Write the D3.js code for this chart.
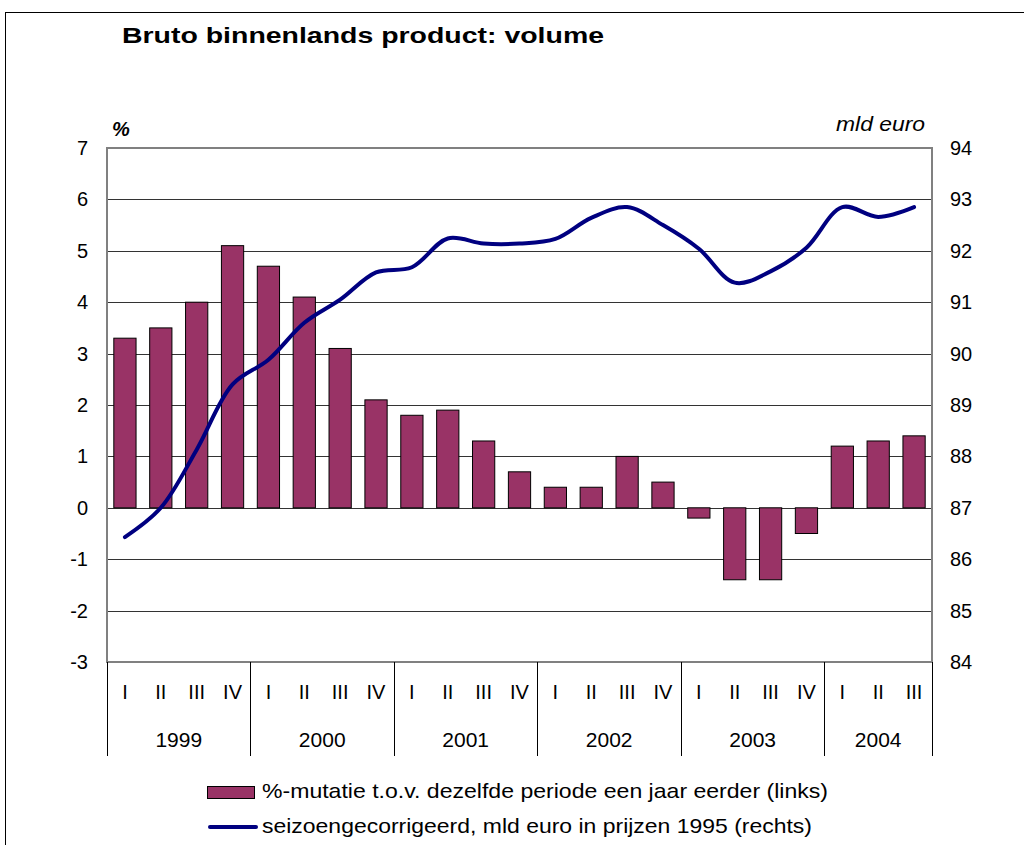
<!DOCTYPE html>
<html>
<head>
<meta charset="utf-8">
<script src="https://cdn.jsdelivr.net/npm/d3@7"></script>
<style>
  body { margin: 0; background: #fff; }
  text { font-family: "Liberation Sans", Arial, sans-serif; fill: #000; }
</style>
</head>
<body>
<svg id="chart" width="1024" height="845"></svg>
<script>
const years = ["1999", "2000", "2001", "2002", "2003", "2004"];
const periods = [
  "1999 I", "1999 II", "1999 III", "1999 IV",
  "2000 I", "2000 II", "2000 III", "2000 IV",
  "2001 I", "2001 II", "2001 III", "2001 IV",
  "2002 I", "2002 II", "2002 III", "2002 IV",
  "2003 I", "2003 II", "2003 III", "2003 IV",
  "2004 I", "2004 II", "2004 III"
];
const mutatie = [3.3, 3.5, 4.0, 5.1, 4.7, 4.1, 3.1, 2.1, 1.8, 1.9, 1.3, 0.7,
  0.4, 0.4, 1.0, 0.5, -0.2, -1.4, -1.4, -0.5, 1.2, 1.3, 1.4];
const volume = [86.43, 87.0, 88.13, 89.4, 89.88, 90.6, 91.05, 91.58, 91.68, 92.24, 92.14, 92.14,
  92.23, 92.64, 92.85, 92.5, 92.04, 91.38, 91.6, 92.06, 92.85, 92.66, 92.85];
const leftTicks = [-3, -2, -1, 0, 1, 2, 3, 4, 5, 6, 7];
const rightTicks = [84, 85, 86, 87, 88, 89, 90, 91, 92, 93, 94];
const legendLabels = [
  "%-mutatie t.o.v. dezelfde periode een jaar eerder (links)",
  "seizoengecorrigeerd, mld euro in prijzen 1995 (rechts)"
];

const svg = d3.select("#chart");
const plotLeft = 107, plotRight = 932, plotTop = 148, plotBottom = 662;

// outer frame
svg.append("rect")
  .attr("x", 5.5).attr("y", 12.5)
  .attr("width", 1030).attr("height", 850)
  .attr("fill", "none").attr("stroke", "#000").attr("stroke-width", 1);

svg.append("text")
  .attr("x", 122).attr("y", 43)
  .attr("font-size", 22).attr("font-weight", "bold")
  .attr("textLength", 482).attr("lengthAdjust", "spacingAndGlyphs")
  .text("Bruto binnenlands product: volume");

const xScale = d3.scaleBand().domain(periods).range([plotLeft, plotRight]).paddingInner(0.38).paddingOuter(0.19);
const yLeft = d3.scaleLinear().domain([-3, 7]).range([plotBottom, plotTop]);
const yRight = d3.scaleLinear().domain([84, 94]).range([plotBottom, plotTop]);
const step = xScale.step();

// gridlines
svg.append("g")
  .selectAll("line")
  .data(leftTicks.slice(1, -1))
  .join("line")
  .attr("x1", plotLeft).attr("x2", plotRight)
  .attr("y1", d => Math.round(yLeft(d)) + 0.5)
  .attr("y2", d => Math.round(yLeft(d)) + 0.5)
  .attr("stroke", "#333").attr("stroke-width", 1);

// bars
svg.append("g")
  .selectAll("rect")
  .data(mutatie)
  .join("rect")
  .attr("x", (d, i) => xScale(periods[i]))
  .attr("y", d => yLeft(Math.max(0, d)))
  .attr("width", xScale.bandwidth())
  .attr("height", d => Math.abs(yLeft(d) - yLeft(0)))
  .attr("fill", "#993366")
  .attr("stroke", "#000").attr("stroke-width", 1);

// line
const line = d3.line()
  .x((d, i) => xScale(periods[i]) + xScale.bandwidth() / 2)
  .y(d => yRight(d))
  .curve(d3.curveCatmullRom);

svg.append("path")
  .datum(volume)
  .attr("d", line)
  .attr("fill", "none")
  .attr("stroke", "#000080")
  .attr("stroke-width", 4)
  .attr("stroke-linecap", "round")
  .attr("stroke-linejoin", "round");

// plot frame
svg.append("rect")
  .attr("x", plotLeft).attr("y", plotTop)
  .attr("width", plotRight - plotLeft).attr("height", plotBottom - plotTop)
  .attr("fill", "none").attr("stroke", "#808080").attr("stroke-width", 2);

// left axis
svg.append("g")
  .selectAll("text")
  .data(leftTicks)
  .join("text")
  .attr("x", 88).attr("y", d => yLeft(d) + 7)
  .attr("text-anchor", "end").attr("font-size", 20)
  .text(d => d);

// right axis
svg.append("g")
  .selectAll("text")
  .data(rightTicks)
  .join("text")
  .attr("x", 950).attr("y", d => yRight(d) + 7)
  .attr("font-size", 20)
  .text(d => d);

svg.append("text")
  .attr("x", 112).attr("y", 136)
  .attr("font-size", 20).attr("font-weight", "bold").attr("font-style", "italic")
  .text("%");
svg.append("text")
  .attr("x", 836).attr("y", 131)
  .attr("font-size", 21).attr("font-style", "italic")
  .attr("textLength", 89).attr("lengthAdjust", "spacingAndGlyphs")
  .text("mld euro");

// category axis: quarters
svg.append("g")
  .selectAll("text")
  .data(periods)
  .join("text")
  .attr("x", d => xScale(d) + xScale.bandwidth() / 2)
  .attr("y", 699)
  .attr("text-anchor", "middle").attr("font-size", 20)
  .text(d => d.split(" ")[1]);

// category axis: years
svg.append("g")
  .selectAll("text")
  .data(years)
  .join("text")
  .attr("x", (d, i) => {
    const n = periods.filter(p => p.startsWith(d)).length;
    return plotLeft + (i * 4 + n / 2) * step;
  })
  .attr("y", 747)
  .attr("text-anchor", "middle").attr("font-size", 21)
  .text(d => d);

// year separators
const seps = years.map((d, i) => plotLeft + i * 4 * step).concat([plotRight]);
svg.append("g")
  .selectAll("line")
  .data(seps)
  .join("line")
  .attr("x1", d => Math.round(d) + 0.5).attr("x2", d => Math.round(d) + 0.5)
  .attr("y1", plotBottom).attr("y2", 756)
  .attr("stroke", "#000").attr("stroke-width", 1);

// legend
const legend = svg.append("g");
legend.append("rect")
  .attr("x", 207.5).attr("y", 786.5).attr("width", 47).attr("height", 12)
  .attr("fill", "#993366").attr("stroke", "#000").attr("stroke-width", 1);
legend.append("line")
  .attr("x1", 210).attr("x2", 256).attr("y1", 827).attr("y2", 827)
  .attr("stroke", "#000080").attr("stroke-width", 4).attr("stroke-linecap", "round");
legend.selectAll(".lbl")
  .data(legendLabels)
  .join("text")
  .attr("class", "lbl")
  .attr("x", 262).attr("y", (d, i) => 798 + i * 35)
  .attr("font-size", 21)
  .attr("textLength", (d, i) => [566, 550][i])
  .attr("lengthAdjust", "spacingAndGlyphs")
  .text(d => d);
</script>
</body>
</html>
